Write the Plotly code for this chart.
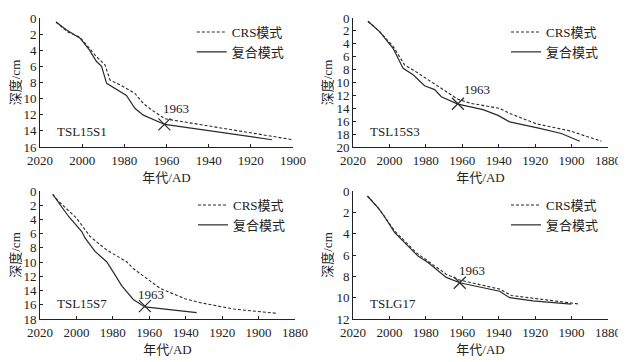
import plotly.graph_objects as go

# ---------------- data ----------------
s1_crs_year = [2012.4, 2007.0, 2001.0, 1993.2, 1989.2, 1986.8, 1982.0, 1975.0, 1971.0, 1967.0, 1960.8, 1900.0]
s1_crs_depth = [0.5, 1.7, 2.4, 4.8, 5.8, 7.7, 8.3, 9.35, 10.6, 11.4, 12.5, 15.1]
s1_cmp_year = [2012.4, 2007.4, 2001.0, 1996.6, 1993.2, 1990.8, 1988.4, 1979.0, 1975.0, 1971.0, 1960.8, 1910.0]
s1_cmp_depth = [0.5, 1.5, 2.5, 3.95, 5.4, 6.0, 8.1, 9.6, 11.2, 12.05, 13.2, 15.1]

s3_crs_year = [2011.8, 2005.4, 1998.0, 1991.6, 1987.0, 1979.7, 1972.4, 1962.4, 1955.0, 1939.5, 1934.0, 1919.4, 1901.0, 1883.6]
s3_crs_depth = [0.5, 2.1, 4.4, 7.3, 8.05, 9.35, 10.75, 12.6, 13.25, 14.0, 14.8, 16.4, 17.5, 19.1]
s3_cmp_year = [2011.8, 2005.4, 1998.0, 1992.5, 1987.0, 1980.7, 1975.2, 1971.5, 1962.4, 1956.0, 1948.6, 1940.4, 1934.0, 1917.5, 1905.6, 1895.5]
s3_cmp_depth = [0.5, 2.1, 4.7, 7.8, 8.8, 10.5, 11.1, 12.2, 13.35, 13.8, 14.2, 15.1, 16.1, 17.1, 17.9, 19.1]

s7_crs_year = [2013.0, 2010.0, 2000.0, 1992.5, 1983.4, 1972.4, 1968.8, 1961.4, 1954.0, 1940.4, 1932.0, 1913.8, 1890.0]
s7_crs_depth = [0.47, 1.4, 3.8, 6.4, 8.3, 9.95, 10.9, 12.3, 13.7, 15.15, 15.7, 16.6, 17.2]
s7_cmp_year = [2013.0, 2004.4, 1997.1, 1995.3, 1989.8, 1983.4, 1978.8, 1975.2, 1968.8, 1962.4, 1934.0]
s7_cmp_depth = [0.47, 3.55, 5.7, 6.6, 8.5, 9.95, 11.8, 13.3, 15.25, 16.3, 17.1]

g17_crs_year = [2012.1, 2006.3, 2003.5, 1997.1, 1985.2, 1968.8, 1961.4, 1939.5, 1933.0, 1895.5]
g17_crs_depth = [0.47, 1.56, 2.2, 3.75, 5.8, 7.8, 8.35, 9.2, 9.8, 10.6]
g17_cmp_year = [2012.1, 2006.3, 2003.5, 1997.1, 1990.7, 1984.3, 1978.8, 1968.8, 1961.4, 1939.5, 1934.0, 1921.2, 1900.1]
g17_cmp_depth = [0.47, 1.56, 2.2, 3.9, 5.0, 6.1, 6.7, 8.1, 8.6, 9.4, 10.0, 10.3, 10.6]

marker_year = [1961.0, 1962.4, 1962.4, 1961.4]
marker_depth = [13.2, 13.3, 16.2, 8.6]

core_names = ["TSL15S1", "TSL15S3", "TSL15S7", "TSLG17"]
x_ranges = [[2020, 1900], [2020, 1880], [2020, 1880], [2020, 1880]]
y_max = [16, 20, 18, 12]
y_dtick = [2, 2, 2, 2]
x_ticks = [[2020, 2000, 1980, 1960, 1940, 1920, 1900], [2020, 2000, 1980, 1960, 1940, 1920, 1900, 1880]]
legend_names = ["CRS模式", "复合模式"]
mark_label = "1963"
x_title = "年代/AD"
y_title = "深度/cm"

# page body has an 8px margin: the figure is drawn 8px in from the top-left
OFF = 8
W, H = 626 - OFF, 362 - OFF
FONT = "'Times New Roman', 'Liberation Serif', 'Noto Sans CJK SC', serif"

panels = [
    dict(crs=(s1_crs_year, s1_crs_depth), cmp=(s1_cmp_year, s1_cmp_depth), px=(40, 293), py=(18, 147), lab=(12, 16)),
    dict(crs=(s3_crs_year, s3_crs_depth), cmp=(s3_cmp_year, s3_cmp_depth), px=(353, 608), py=(18, 147), lab=(19, 14)),
    dict(crs=(s7_crs_year, s7_crs_depth), cmp=(s7_cmp_year, s7_cmp_depth), px=(40, 295), py=(191, 319), lab=(6, 12)),
    dict(crs=(g17_crs_year, g17_crs_depth), cmp=(g17_cmp_year, g17_cmp_depth), px=(353, 608), py=(191, 319), lab=(12, 12)),
]

fig = go.Figure()
layout = dict(
    width=W, height=H, margin=dict(l=0, r=0, t=0, b=0, autoexpand=False),
    paper_bgcolor="white", plot_bgcolor="white",
    font=dict(family=FONT, size=13, color="#222"),
    showlegend=True,
)
annotations = []
line_c = "#2a2a2a"
for i, p in enumerate(panels):
    k = "" if i == 0 else str(i + 1)
    xa, ya = "x" + k, "y" + k
    lg = "legend" + k
    fig.add_trace(go.Scatter(x=p["crs"][0], y=p["crs"][1], mode="lines", name=legend_names[0],
                             line=dict(color=line_c, width=1.1, dash="3px,2px"),
                             xaxis=xa, yaxis=ya, legend=lg))
    fig.add_trace(go.Scatter(x=p["cmp"][0], y=p["cmp"][1], mode="lines", name=legend_names[1],
                             line=dict(color=line_c, width=1.2),
                             xaxis=xa, yaxis=ya, legend=lg))
    fig.add_trace(go.Scatter(x=[marker_year[i]], y=[marker_depth[i]], mode="markers", showlegend=False,
                             marker=dict(symbol="x-thin", size=12, line=dict(color=line_c, width=1.2)),
                             xaxis=xa, yaxis=ya))
    x0, x1 = p["px"][0] - OFF, p["px"][1] - OFF
    y0, y1 = p["py"][0] - OFF, p["py"][1] - OFF
    xd = [x0 / W, x1 / W]
    yd = [1 - y1 / H, 1 - y0 / H]
    tick_vals = x_ticks[0] if i == 0 else x_ticks[1]
    layout["xaxis" + k] = dict(
        domain=xd, range=x_ranges[i], anchor=ya, tickvals=tick_vals, automargin=False,
        showgrid=False, zeroline=False, showline=True, linecolor="#222", linewidth=1,
        ticks="inside", ticklen=3, tickcolor="#222", ticklabelstandoff=1,
        tickfont=dict(family=FONT, size=13, color="#222"),
        title=dict(text=x_title, font=dict(family=FONT, size=13, color="#222"), standoff=6),
    )
    layout["yaxis" + k] = dict(
        domain=yd, range=[y_max[i], 0], anchor=xa, dtick=y_dtick[i], automargin=False,
        showgrid=False, zeroline=False, showline=True, linecolor="#222", linewidth=1,
        ticks="inside", ticklen=3, tickcolor="#222",
        tickfont=dict(family=FONT, size=13, color="#222"),
        title=dict(text=y_title, font=dict(family=FONT, size=13, color="#222"), standoff=0),
    )
    layout[lg] = dict(
        x=(x0 + 0.60 * (x1 - x0)) / W, y=1 - (y0 - 1) / H, xanchor="left", yanchor="top",
        bgcolor="rgba(0,0,0,0)", font=dict(family=FONT, size=13, color="#222"),
        itemwidth=30, tracegroupgap=0,
    )
    annotations.append(dict(text=core_names[i], xref=xa + " domain", yref=ya + " domain",
                            x=0.06, y=0.12, xanchor="left", yanchor="middle", showarrow=False,
                            font=dict(family=FONT, size=13, color="#222")))
    annotations.append(dict(text=mark_label, xref=xa, yref=ya, x=marker_year[i], y=marker_depth[i],
                            xanchor="center", yanchor="middle", xshift=p["lab"][0], yshift=p["lab"][1],
                            showarrow=False, font=dict(family=FONT, size=13, color="#222")))

layout["annotations"] = annotations
fig.update_layout(**layout)
fig.write_html("out.html")
